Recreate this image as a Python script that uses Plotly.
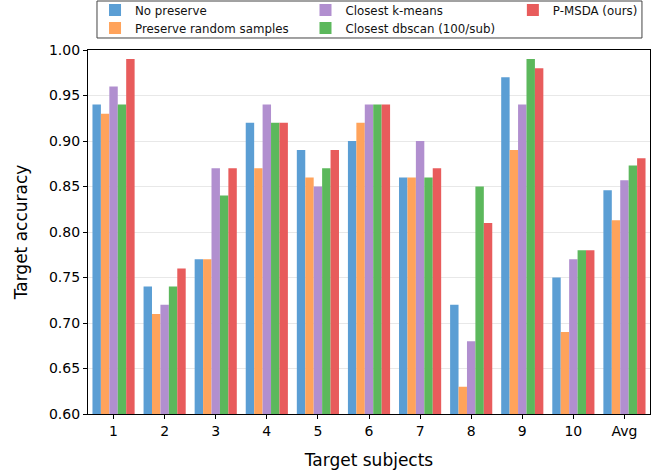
import plotly.graph_objects as go

categories = ["1", "2", "3", "4", "5", "6", "7", "8", "9", "10", "Avg"]
no_preserve = [0.94, 0.74, 0.77, 0.92, 0.89, 0.90, 0.86, 0.72, 0.97, 0.75, 0.846]
preserve_random = [0.93, 0.71, 0.77, 0.87, 0.86, 0.92, 0.86, 0.63, 0.89, 0.69, 0.813]
closest_kmeans = [0.96, 0.72, 0.87, 0.94, 0.85, 0.94, 0.90, 0.68, 0.94, 0.77, 0.857]
closest_dbscan = [0.94, 0.74, 0.84, 0.92, 0.87, 0.94, 0.86, 0.85, 0.99, 0.78, 0.873]
p_msda = [0.99, 0.76, 0.87, 0.92, 0.89, 0.94, 0.87, 0.81, 0.98, 0.78, 0.881]
y_ticks = [0.60, 0.65, 0.70, 0.75, 0.80, 0.85, 0.90, 0.95, 1.00]

# (name, values, colour, legend id, legend x (paper), legend y centre (paper))
series = [
    ("No preserve", no_preserve, "#5B9ED4", "legend", 0.0125, 1.1099),
    ("Preserve random samples", preserve_random, "#FFA35B", "legend2", 0.0125, 1.0604),
    ("Closest k-means", closest_kmeans, "#B18FCF", "legend3", 0.387, 1.1099),
    ("Closest dbscan (100/sub)", closest_dbscan, "#5CB85C", "legend4", 0.387, 1.0604),
    ("P-MSDA (ours)", p_msda, "#E85C5C", "legend5", 0.756, 1.1099),
]

FONT = "DejaVu Sans"
fig = go.Figure()
legends = {}
for name, vals, color, lg, lx, ly in series:
    fig.add_trace(go.Bar(x=categories, y=vals, name=name, marker_color=color,
                         marker_line_width=0, legend=lg, showlegend=True))
    legends[lg] = dict(
        orientation="v", yanchor="middle", y=ly, xanchor="left", x=lx,
        font=dict(family=FONT, size=11.8, color="#111"),
        bgcolor="rgba(0,0,0,0)", borderwidth=0, itemwidth=30,
    )

fig.update_layout(
    width=663, height=475,
    showlegend=True,
    margin=dict(l=88, r=13, t=50, b=61, autoexpand=False),
    paper_bgcolor="white", plot_bgcolor="white",
    barmode="group", bargap=0.175, bargroupgap=0,
    font=dict(family=FONT, size=14, color="black"),
    xaxis=dict(
        title=dict(text="Target subjects", font=dict(size=17), standoff=16),
        ticks="outside", ticklen=4, tickcolor="black",
        showline=True, linecolor="black", linewidth=1.2, mirror=True,
        showgrid=False, range=[-0.5, 10.5],
        tickfont=dict(size=14),
    ),
    yaxis=dict(
        title=dict(text="Target accuracy", font=dict(size=17), standoff=16),
        range=[0.6, 1.0], tickvals=y_ticks, tickformat=".2f",
        ticks="outside", ticklen=4, tickcolor="black",
        showline=True, linecolor="black", linewidth=1.2, mirror=True,
        showgrid=True, gridcolor="#e8e8e8", gridwidth=1,
        zeroline=False, tickfont=dict(size=14),
    ),
    shapes=[dict(
        type="rect", xref="paper", yref="paper",
        x0=0.016, x1=0.9857, y0=1.033, y1=1.1346,
        line=dict(color="#444", width=1), fillcolor="rgba(0,0,0,0)",
        layer="above",
    )],
    **legends,
)

fig.write_html("out.html")
